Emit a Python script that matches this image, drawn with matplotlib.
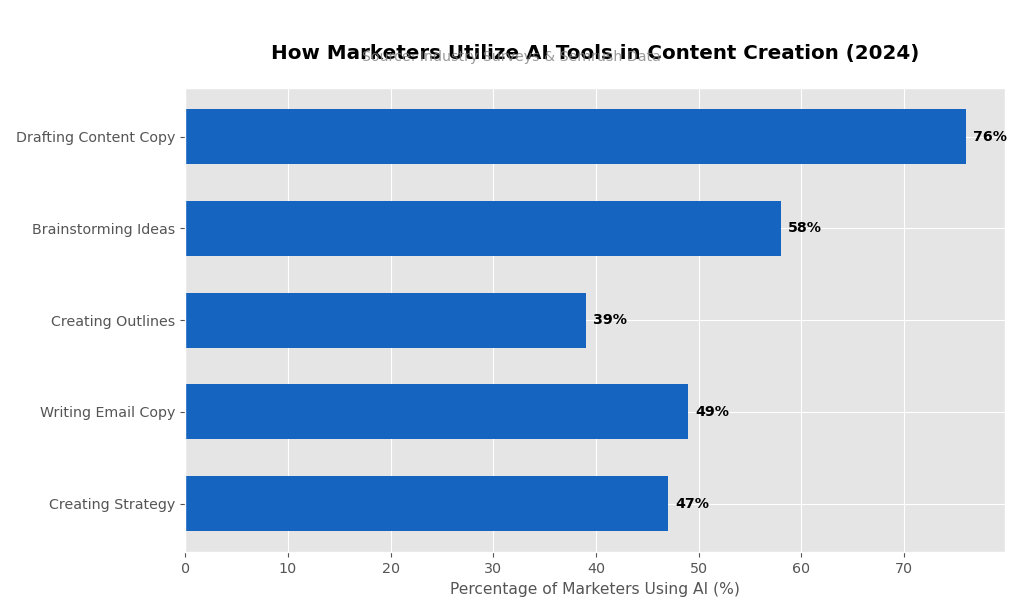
import matplotlib.pyplot as plt

plt.style.use('ggplot')

tasks = ['Drafting Content Copy', 'Brainstorming Ideas', 'Creating Outlines',
         'Writing Email Copy', 'Creating Strategy']
percent = [76, 58, 39, 49, 47]

fig, ax = plt.subplots(figsize=(10.24, 6.15), dpi=100)
y = list(range(len(tasks)))[::-1]
bars = ax.barh(y, percent, height=0.6, color='#1565C0')
ax.set_yticks(y)
ax.set_yticklabels(tasks, fontsize=10.3)
ax.tick_params(axis='x', labelsize=10.3)
ax.set_xlim(0, max(percent) * 1.05)
ax.set_xlabel('Percentage of Marketers Using AI (%)', fontsize=11.2)

for b, v in zip(bars, percent):
    ax.text(b.get_width() + 0.7, b.get_y() + b.get_height() / 2, f'{v}%',
            va='center', ha='left', fontsize=10.2, fontweight='bold', color='black')

ax.set_title('How Marketers Utilize AI Tools in Content Creation (2024)',
             fontsize=14.3, fontweight='bold', pad=20.5, color='black')
fig.text(0.499, 0.908, 'Source: Industry Surveys & Semrush Data',
         ha='center', va='center', fontsize=10.2, color='gray', alpha=0.8)

plt.subplots_adjust(left=0.181, right=0.981, top=0.857, bottom=0.102)
fig.savefig('out.png')
